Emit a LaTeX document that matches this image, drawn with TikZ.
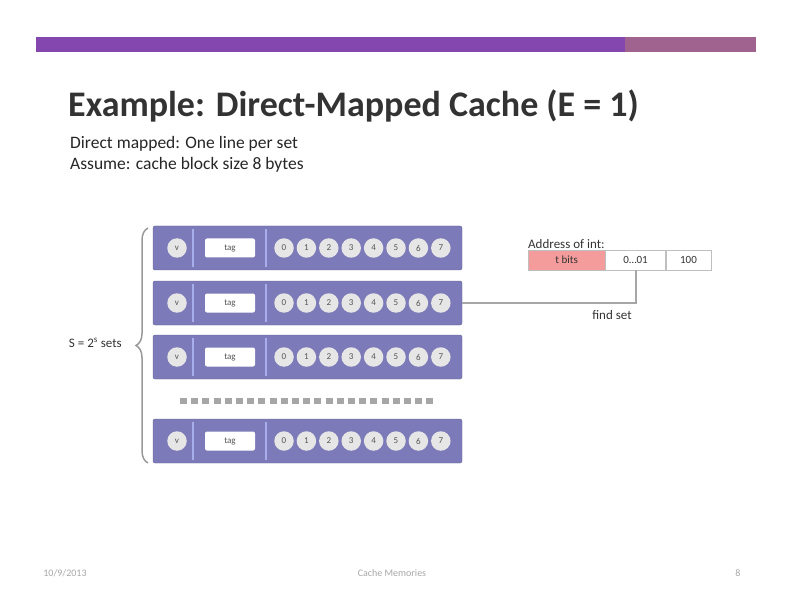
\documentclass[tikz,border=0pt]{standalone}
\usepackage{fontspec}
\setmainfont{Carlito}
\usetikzlibrary{decorations.pathreplacing}
\definecolor{barpurple}{HTML}{8447B0}
\definecolor{barmauve}{HTML}{A0628E}
\definecolor{linefill}{HTML}{7C7AB8}
\definecolor{sepblue}{HTML}{A7AEEB}
\definecolor{cellgray}{HTML}{E6E6E6}
\definecolor{tagpink}{HTML}{F49C9C}
\definecolor{txtgray}{HTML}{555555}
\begin{document}
\begin{tikzpicture}[x=1pt,y=-1pt,
  linebox/.style={draw=linefill!80!black,fill=linefill,rounded corners=2pt,minimum width=309pt,minimum height=44pt,inner sep=0pt},
  bitcell/.style={circle,fill=cellgray,minimum size=19.5pt,inner sep=0pt,font=\fontsize{9}{10}\selectfont,text=txtgray},
  tagcell/.style={fill=white,rounded corners=2pt,minimum width=50pt,minimum height=19pt,inner sep=0pt,font=\fontsize{9}{10}\selectfont,text=txtgray},
  sepline/.style={sepblue,line width=2.5pt},
  field/.style={draw=gray!50,minimum height=20pt,inner sep=0pt,font=\fontsize{11}{12}\selectfont,text=black!80},
  lbl/.style={font=\fontsize{13}{14}\selectfont,text=black!80,inner sep=0pt},
  conn/.style={draw=gray!70,line width=2pt}
]
\useasboundingbox (0,0) rectangle (792,612);
% top bar
\fill[barpurple] (36,37) rectangle (625,52);
\fill[barmauve] (625,37) rectangle (756,52);
% title
\node[anchor=west,inner sep=0pt,font=\fontsize{36}{38}\selectfont\bfseries,text=black!80] (title) at (68,106) {Example: Direct-Mapped Cache (E = 1)};
\node[anchor=west,inner sep=0pt,font=\fontsize{17.5}{19}\selectfont,text=black!85] (sub1) at (70,144) {Direct mapped: One line per set};
\node[anchor=west,inner sep=0pt,font=\fontsize{17.5}{19}\selectfont,text=black!85] (sub2) at (70,165) {Assume: cache block size 8 bytes};
% cache lines
\foreach \n/\y in {1/248,2/303,3/357,4/441}{
  \node[linebox] (line\n) at (307.5,\y) {};
  \node[bitcell] (v\n) at (177,\y) {v};
  \draw[sepline] (193,\y-19) -- (193,\y+19);
  \node[tagcell] (tag\n) at (230,\y) {tag};
  \draw[sepline] (266,\y-19) -- (266,\y+19);
  \foreach \b in {0,...,7}{
    \node[bitcell] (b\n\b) at (284+22.4*\b,\y) {\b};
  }
}
% dots row
\draw[gray!70,line width=6pt,dash pattern=on 7pt off 4.2pt] (180,401) -- (434,401);
% brace
\draw[gray!80,line width=1.5pt,decorate,decoration={brace,amplitude=12pt}] (148,463) -- (148,228);
\node[lbl,anchor=east] (slabel) at (122,343) {S = 2\textsuperscript{s} sets};
% address
\node[lbl,anchor=south west] (addrlbl) at (528,249) {Address of int:};
\node[field,fill=tagpink,minimum width=77pt,anchor=west] (tbits) at (528,260) {t bits};
\node[field,fill=white,minimum width=60pt,anchor=west] (idx) at (tbits.east) {0…01};
\node[field,fill=white,minimum width=45pt,anchor=west] (off) at (idx.east) {100};
% connector
\draw[conn] (line2.east) -| (idx.south);
\node[lbl] (findset) at (612,315) {find set};
% footer
\node[font=\fontsize{10}{11}\selectfont,text=gray!70] (fl) at (65,573) {10/9/2013};
\node[font=\fontsize{10}{11}\selectfont,text=gray!70] (fc) at (392,573) {Cache Memories};
\node[font=\fontsize{10}{11}\selectfont,text=gray!70] (fr) at (738,573) {8};
\end{tikzpicture}
\end{document}
